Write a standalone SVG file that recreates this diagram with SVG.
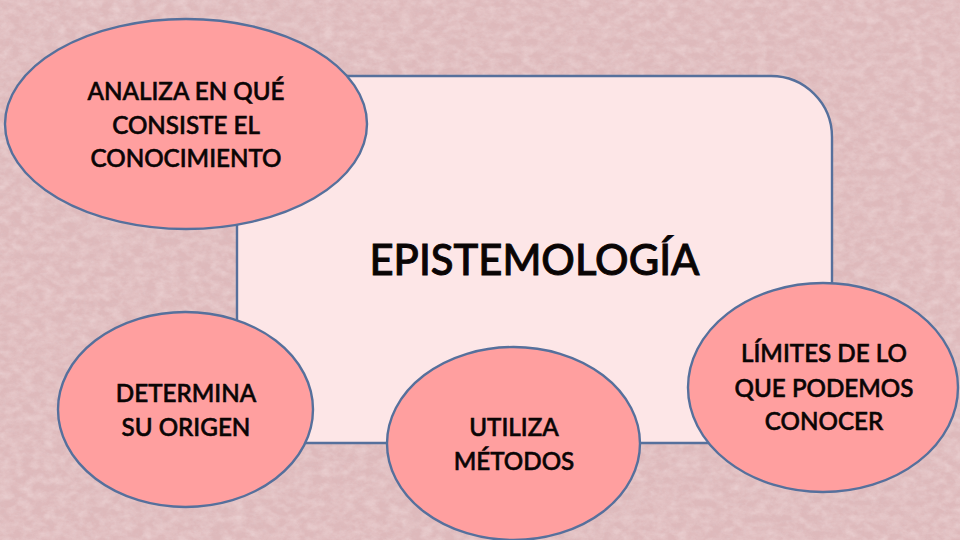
<svg xmlns="http://www.w3.org/2000/svg" width="960" height="540" viewBox="0 0 960 540">
<style>
.shape{stroke:#56709c;stroke-width:2.400}
.oval{fill:#ff9f9f}
.t{font-family:"Lato","Open Sans","Liberation Sans",sans-serif;font-size:24.200px;font-weight:500;fill:#0a0505;text-anchor:middle;stroke:#0a0505;stroke-width:.6}
.title{font-size:41.800px;stroke-width:.9}
</style>
<defs>
<filter id="tex" x="0" y="0" width="100%" height="100%">
<feTurbulence type="fractalNoise" baseFrequency="0.09 0.13" numOctaves="4" seed="7"/>
<feColorMatrix type="matrix" values="0 0 0 0 0.95  0 0 0 0 0.82  0 0 0 0 0.82  1.6 0.8 0 0 -0.9"/>
</filter>
<filter id="tex2" x="0" y="0" width="100%" height="100%">
<feTurbulence type="fractalNoise" baseFrequency="0.3" numOctaves="3" seed="3"/>
<feColorMatrix type="matrix" values="0 0 0 0 0.72  0 0 0 0 0.54  0 0 0 0 0.56  0 2 0 0 -0.8"/>
</filter>
</defs>
<g id="background">
<rect width="960" height="540" fill="#deb9bb"/>
<rect width="960" height="540" filter="url(#tex2)" opacity=".4"/>
<rect width="960" height="540" filter="url(#tex)" opacity=".4"/>
</g>
<g id="connectors"></g>
<g id="main">
<rect class="shape" x="237" y="76" width="595" height="367" rx="61" fill="#fde6e7"/>
<text class="t title" x="534.500" y="275">EPISTEMOLOGÍA</text>
</g>
<g id="node-analiza">
<ellipse class="shape oval" cx="186" cy="124" rx="181" ry="105"/>
<text class="t" x="186" y="100">ANALIZA EN QUÉ</text>
<text class="t" x="186" y="134">CONSISTE EL</text>
<text class="t" x="186" y="167">CONOCIMIENTO</text>
</g>
<g id="node-origen">
<ellipse class="shape oval" cx="185.500" cy="409.500" rx="127.500" ry="97.500"/>
<text class="t" x="186" y="402">DETERMINA</text>
<text class="t" x="186" y="436">SU ORIGEN</text>
</g>
<g id="node-metodos">
<ellipse class="shape oval" cx="513.500" cy="443.500" rx="126.500" ry="96.500"/>
<text class="t" x="514" y="436">UTILIZA</text>
<text class="t" x="514" y="470">MÉTODOS</text>
</g>
<g id="node-limites">
<ellipse class="shape oval" cx="823" cy="387.500" rx="135" ry="104.500"/>
<text class="t" x="824" y="362">LÍMITES DE LO</text>
<text class="t" x="824" y="397">QUE PODEMOS</text>
<text class="t" x="824" y="430">CONOCER</text>
</g>
</svg>
